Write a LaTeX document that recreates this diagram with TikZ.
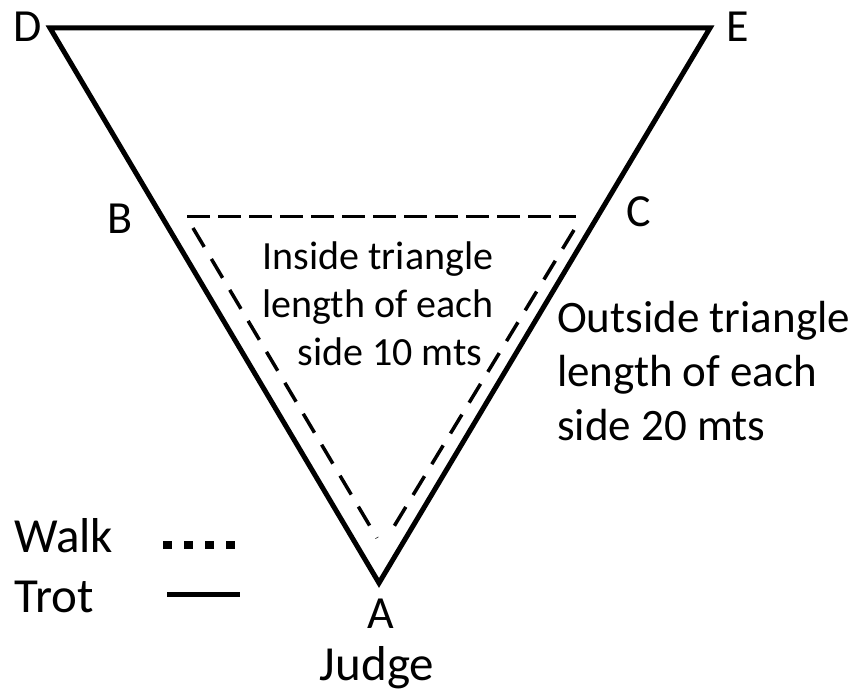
\documentclass[tikz,border=0pt]{standalone}
\usepackage{fontspec}
\setmainfont{Carlito}
\begin{document}
\begin{tikzpicture}[x=1pt,y=-1pt,
  trot/.style={line width=5pt,line join=miter},
  walkside/.style={line width=3.5pt,dash pattern=on 22pt off 14pt},
  walktop/.style={line width=3pt,dash pattern=on 23pt off 8pt},
  letter/.style={inner sep=0pt,font=\fontsize{46}{50}\selectfont},
  inside/.style={inner sep=0pt,anchor=base,font=\fontsize{40}{48}\selectfont},
  outside/.style={inner sep=0pt,anchor=base west,font=\fontsize{45}{54}\selectfont},
  legend/.style={inner sep=0pt,anchor=base west,font=\fontsize{49}{54}\selectfont}]
\useasboundingbox (0,0) rectangle (862,692);
% outer triangle vertices
\coordinate (pD) at (50,28);
\coordinate (pE) at (710,28);
\coordinate (pA) at (379,583);
\draw[trot] (pD) -- (pE) -- (pA) -- cycle;
% inner dashed triangle
\coordinate (iB) at (187,217);
\coordinate (iC) at (576,217);
\coordinate (lB) at (193,228);
\coordinate (lA) at (377,538);
\coordinate (rC) at (574,230);
\coordinate (rA) at (390,533);
\draw[walktop] (iB) -- (iC);
\draw[walkside] (lB) -- (lA);
\draw[walkside] (rC) -- (rA);
% vertex labels
\node[letter,anchor=base west] (tD) at (13,42) {D};
\node[letter,anchor=base west] (tE) at (726,42) {E};
\node[letter,anchor=base west] (tB) at (107,234) {B};
\node[letter,anchor=base west] (tC) at (626,227) {C};
\node[letter,anchor=base] (tA) at (381,628) {A};
\node[legend,anchor=base] (judge) at (377,680) {Judge};
% inside text
\node[inside] (in1) at (378,270) {Inside triangle};
\node[inside] (in2) at (378,318) {length of each};
\node[inside] (in3) at (390,366) {side 10 mts};
% outside text
\node[outside] (out1) at (557,333) {Outside triangle};
\node[outside] (out2) at (557,387) {length of each};
\node[outside] (out3) at (557,440) {side 20 mts};
% legend
\node[legend] (walk) at (14,552) {Walk};
\node[legend] (trotl) at (14,612) {Trot};
\coordinate (w1) at (163,545);
\coordinate (w2) at (240,545);
\draw[line width=8pt,dash pattern=on 9pt off 12pt] (w1) -- (w2);
\coordinate (t1) at (167,594);
\coordinate (t2) at (240,594);
\draw[line width=5pt] (t1) -- (t2);
\end{tikzpicture}
\end{document}
